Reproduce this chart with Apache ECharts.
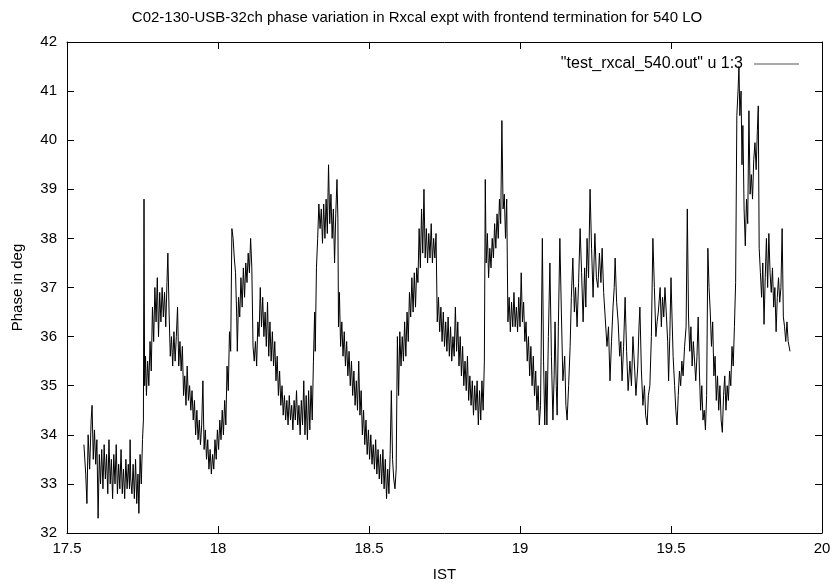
<!DOCTYPE html>
<html>
<head>
<meta charset="utf-8">
<script src="https://cdn.jsdelivr.net/npm/echarts@6/dist/echarts.min.js"></script>
<style>html,body{margin:0;padding:0;background:#fff}#c{width:834px;height:587px}</style>
</head>
<body>
<div id="c"></div>
<script>
const titleText = 'C02-130-USB-32ch phase variation in Rxcal expt with frontend termination for 540 LO';
const seriesName = '"test_rxcal_540.out" u 1:3';
const xLabel = 'IST';
const yLabel = 'Phase in deg';
const xTicks = [17.5, 18, 18.5, 19, 19.5, 20];
const yTicks = [32, 33, 34, 35, 36, 37, 38, 39, 40, 41, 42];

// [IST hour, phase deg]
const part1 = [
[17.556,33.8],[17.562,33.2],[17.566,32.6],[17.570,34.0],[17.575,33.3],[17.580,34.3],[17.583,34.6],[17.587,33.5],[17.591,34.1],[17.595,33.4],
[17.599,33.9],[17.603,32.3],[17.607,33.6],[17.611,33.0],[17.615,33.7],[17.619,32.9],[17.623,33.8],[17.627,33.1],[17.631,33.6],[17.635,32.8],
[17.639,33.9],[17.643,33.0],[17.647,33.5],[17.651,32.7],[17.655,33.6],[17.659,33.0],[17.663,33.8],[17.667,32.8],[17.671,33.4],[17.675,32.9],
[17.679,33.7],[17.683,32.8],[17.687,33.3],[17.691,32.7],[17.695,33.5],[17.699,32.9],[17.703,33.4],[17.707,32.9],[17.709,33.9],[17.711,33.1],
[17.715,32.8],[17.719,33.4],[17.723,32.7],[17.727,33.5],[17.731,32.6],[17.735,33.2],[17.738,32.4],[17.742,33.6],[17.746,33.0],[17.750,33.9],
[17.753,34.3],[17.755,38.8],[17.757,35.0],[17.760,35.6],[17.763,34.8],[17.767,35.5],[17.771,35.0],[17.775,35.9],[17.779,35.3],[17.783,36.6],
[17.787,35.9],[17.791,37.0],[17.795,36.3],[17.799,37.2],[17.803,36.0],[17.807,36.9],[17.811,36.3],[17.815,37.0],[17.819,36.4],[17.823,36.9],
[17.827,36.2],[17.831,37.1],[17.834,37.7],[17.838,36.5],[17.842,35.6],[17.846,36.0],[17.850,35.4],[17.854,36.1],[17.858,35.5],[17.862,36.0],
[17.866,36.6],[17.870,35.4],[17.874,35.9],[17.878,35.3],[17.882,35.8],[17.886,34.8],[17.890,35.2],[17.894,34.6],[17.898,35.4],[17.902,34.7],
[17.906,35.0],[17.910,34.5],[17.914,34.9],[17.918,34.3],[17.922,34.7],[17.926,34.0],[17.930,34.5],[17.934,33.9],[17.938,34.3],[17.942,33.8],
[17.946,34.2],[17.950,35.1],[17.954,33.7],[17.958,34.1],[17.962,33.5],[17.966,33.9],[17.970,33.3],[17.974,33.7],[17.978,33.2],[17.982,33.6],
[17.986,33.3],[17.990,33.9],[17.994,33.5],[17.998,34.1]
];
const part2 = [
[18.002,33.7],[18.006,34.3],[18.010,33.9],[18.014,34.5],[18.018,34.0],[18.022,34.7],[18.026,34.2],[18.030,35.4],[18.034,34.9],[18.038,36.1],
[18.042,35.7],[18.046,38.2],[18.050,38.0],[18.054,37.6],[18.058,37.3],[18.062,36.4],[18.064,35.7],[18.068,36.8],[18.072,36.4],[18.076,37.2],
[18.080,36.6],[18.084,37.4],[18.088,36.8],[18.092,37.5],[18.096,37.1],[18.100,37.7],[18.104,37.3],[18.108,38.0],[18.112,37.4],[18.116,35.8],
[18.120,35.5],[18.124,35.9],[18.128,35.4],[18.132,36.3],[18.136,36.0],[18.140,37.0],[18.144,36.2],[18.148,36.8],[18.152,36.0],[18.156,36.5],
[18.160,35.8],[18.164,36.7],[18.168,35.6],[18.172,36.3],[18.176,35.5],[18.180,36.1],[18.184,35.4],[18.188,35.9],[18.192,35.1],[18.196,35.6],
[18.200,34.8],[18.204,35.3],[18.208,34.6],[18.212,35.0],[18.216,34.4],[18.220,34.8],[18.224,34.3],[18.228,34.7],[18.232,34.2],[18.236,34.8],
[18.240,34.3],[18.244,34.6],[18.248,34.1],[18.252,34.7],[18.256,34.3],[18.260,34.9],[18.264,34.2],[18.268,34.6],[18.272,34.0],[18.276,34.7],
[18.280,34.2],[18.284,35.1],[18.288,34.0],[18.292,34.8],[18.296,33.9],[18.300,34.9],[18.304,34.1],[18.308,35.0],[18.312,34.3],[18.316,35.5],
[18.320,36.5],[18.322,35.7],[18.326,37.4],[18.330,38.0],[18.334,38.7],[18.338,38.2],[18.342,38.6],[18.346,37.9],[18.350,38.7],[18.354,38.0],
[18.358,38.8],[18.362,38.1],[18.366,39.5],[18.370,38.3],[18.374,38.9],[18.378,38.0],[18.382,38.6],[18.386,37.5],[18.390,38.5],[18.394,39.2],
[18.397,38.4],[18.399,36.2],[18.402,36.9],[18.406,35.8],[18.410,36.3],[18.414,35.6],[18.418,36.1],[18.422,35.4],[18.426,35.9],[18.430,35.2],
[18.434,35.7],[18.438,35.0],[18.442,35.5],[18.446,34.8],[18.450,35.3],[18.454,34.6],[18.458,35.1],[18.462,34.5],[18.466,35.5],[18.470,34.4],
[18.474,34.9],[18.478,34.0],[18.482,34.5],[18.486,33.8],[18.490,34.3],[18.494,33.6],[18.498,34.1]
];
const part3 = [
[18.502,33.5],[18.506,34.0],[18.510,33.4],[18.514,33.8],[18.518,33.3],[18.522,33.9],[18.526,33.2],[18.530,33.7],[18.534,33.1],[18.538,33.6],
[18.542,33.0],[18.546,33.7],[18.550,32.9],[18.554,33.5],[18.558,32.7],[18.562,33.3],[18.566,32.8],[18.570,33.6],[18.574,34.9],[18.578,33.5],
[18.582,33.1],[18.586,32.9],[18.590,33.3],[18.594,36.0],[18.598,34.8],[18.602,36.1],[18.606,35.4],[18.610,36.0],[18.614,35.5],[18.618,36.3],
[18.622,35.6],[18.626,36.5],[18.630,35.9],[18.634,36.9],[18.638,36.4],[18.642,37.2],[18.646,36.5],[18.650,37.3],[18.654,36.6],[18.658,37.4],
[18.662,37.1],[18.666,38.2],[18.670,37.4],[18.674,38.6],[18.678,37.7],[18.682,39.0],[18.686,37.6],[18.690,38.2],[18.694,37.5],[18.698,38.1],
[18.702,37.6],[18.706,38.3],[18.710,37.5],[18.714,38.0],[18.718,37.6],[18.722,38.1],[18.726,36.3],[18.730,36.8],[18.734,36.1],[18.738,36.6],
[18.742,35.9],[18.746,36.5],[18.750,35.8],[18.754,36.3],[18.758,35.7],[18.762,36.4],[18.766,35.6],[18.770,36.2],[18.774,35.5],[18.778,36.0],
[18.782,35.6],[18.786,36.6],[18.790,35.7],[18.794,36.3],[18.798,35.4],[18.802,36.0],[18.806,35.2],[18.810,35.8],[18.814,35.0],[18.818,35.5],
[18.822,34.9],[18.826,35.6],[18.830,34.7],[18.834,35.2],[18.838,34.6],[18.842,35.1],[18.846,34.4],[18.850,35.0],[18.854,34.5],[18.858,35.1],
[18.862,34.2],[18.866,34.9],[18.870,34.3],[18.874,35.1],[18.878,34.5],[18.882,35.5],[18.885,39.2],[18.888,37.5],[18.892,38.1],[18.896,37.2],
[18.900,37.8],[18.904,37.4],[18.908,38.0],[18.912,37.6],[18.916,38.3],[18.920,37.8],[18.924,38.5],[18.928,38.0],[18.932,38.8],[18.936,38.3],
[18.940,40.4],[18.944,38.6],[18.948,38.9],[18.952,38.0],[18.956,38.8],[18.960,36.3],[18.964,36.8],[18.968,36.1],[18.972,36.7],[18.976,36.2],
[18.980,36.9],[18.984,36.2],[18.988,36.6],[18.992,36.1],[18.996,36.8]
];
const part4 = [
[19.000,36.2],[19.004,37.3],[19.008,36.3],[19.012,36.7],[19.016,35.9],[19.020,36.3],[19.024,35.5],[19.028,36.0],[19.032,35.2],[19.036,35.8],
[19.040,35.0],[19.044,35.6],[19.048,34.8],[19.052,35.3],[19.056,34.5],[19.060,35.0],[19.064,34.2],[19.068,34.6],[19.074,38.0],[19.078,35.5],
[19.082,34.2],[19.086,35.3],[19.089,34.2],[19.094,36.0],[19.099,37.5],[19.104,35.6],[19.109,34.3],[19.113,35.2],[19.116,36.3],[19.120,35.0],
[19.123,34.4],[19.127,36.2],[19.132,38.0],[19.137,36.5],[19.142,35.1],[19.148,35.6],[19.152,34.6],[19.156,34.3],[19.161,35.0],[19.166,35.8],
[19.170,36.8],[19.175,37.6],[19.180,36.5],[19.184,37.0],[19.189,36.2],[19.194,37.1],[19.199,38.2],[19.204,37.3],[19.209,36.3],[19.214,37.4],
[19.218,36.6],[19.222,38.0],[19.227,37.2],[19.232,39.0],[19.237,37.8],[19.242,36.8],[19.245,37.5],[19.248,38.1],[19.253,37.2],[19.258,37.0],
[19.263,37.7],[19.268,37.1],[19.272,37.8],[19.277,36.9],[19.282,36.4],[19.288,35.8],[19.293,36.2],[19.298,35.1],[19.303,35.9],[19.308,36.6],
[19.312,37.0],[19.315,37.6],[19.320,36.7],[19.325,36.3],[19.330,35.6],[19.334,35.9],[19.338,35.1],[19.343,35.8],[19.348,36.8],[19.353,35.7],
[19.358,34.9],[19.364,35.5],[19.369,35.0],[19.374,36.0],[19.380,35.3],[19.384,34.8],[19.390,35.4],[19.394,36.2],[19.397,36.6],[19.402,35.3],
[19.407,34.6],[19.412,35.0],[19.416,34.4],[19.421,34.2],[19.425,34.8],[19.430,35.0],[19.435,36.0],[19.440,38.0],[19.445,37.0],[19.450,36.0],
[19.454,36.3],[19.458,36.5],[19.464,37.0],[19.468,36.2],[19.472,36.8],[19.476,36.4],[19.480,37.0],[19.485,36.4],[19.489,35.9],[19.492,35.1],
[19.496,36.0]
];
const part5 = [
[19.500,37.2],[19.503,36.5],[19.507,35.6],[19.512,35.0],[19.516,34.5],[19.520,34.2],[19.524,34.8],[19.528,35.3],[19.532,35.0],[19.536,35.5],
[19.540,35.2],[19.545,35.8],[19.550,36.2],[19.554,38.6],[19.558,36.4],[19.562,35.7],[19.566,36.2],[19.570,35.4],[19.574,35.9],[19.578,35.5],
[19.582,35.1],[19.586,35.6],[19.590,36.4],[19.594,35.3],[19.598,34.5],[19.602,35.0],[19.606,34.3],[19.610,34.5],[19.614,34.1],[19.618,34.8],
[19.622,37.8],[19.626,37.0],[19.630,36.5],[19.634,35.8],[19.638,36.3],[19.642,35.2],[19.646,35.6],[19.650,34.7],[19.654,35.2],[19.658,34.5],
[19.662,35.0],[19.666,34.3],[19.670,34.05],[19.674,34.8],[19.678,35.2],[19.682,34.5],[19.686,35.0],[19.690,34.7],[19.694,35.3],[19.698,35.0],
[19.702,35.8],[19.706,35.4],[19.710,36.2],[19.714,37.1],[19.718,40.5],[19.722,41.0],[19.725,41.5],[19.728,40.5],[19.732,41.0],[19.735,39.5],
[19.738,40.3],[19.742,38.6],[19.746,37.85],[19.750,38.8],[19.754,38.3],[19.758,40.6],[19.762,38.9],[19.766,39.3],[19.770,38.8],[19.774,39.6],
[19.778,39.95],[19.782,39.4],[19.786,40.2],[19.789,40.7],[19.792,37.8],[19.796,37.3],[19.800,36.8],[19.804,37.5],[19.808,36.25],[19.812,37.2],
[19.816,38.0],[19.820,37.0],[19.824,38.1],[19.828,37.3],[19.832,36.9],[19.836,37.4],[19.840,36.6],[19.844,37.0],[19.848,36.1],[19.852,36.8],
[19.856,37.2],[19.860,36.7],[19.864,37.0],[19.868,38.2],[19.872,36.4],[19.876,36.2],[19.880,35.9],[19.884,36.3],[19.888,35.9],[19.894,35.7]
];

const readings = [].concat(part1, part2, part3, part4, part5);

const FONT = 'Liberation Sans';
const chart = echarts.init(document.getElementById('c'), null, {renderer: 'canvas'});
const axisLineStyle = {color: '#000', width: 1};
const tickStyle = {show: true, inside: true, length: 7, lineStyle: {color: '#000', width: 1}};
chart.setOption({
  animation: false,
  backgroundColor: '#fff',
  title: {
    text: titleText, left: 'center', top: 5,
    textStyle: {fontFamily: FONT, fontSize: 15, fontWeight: 'normal', color: '#000'}
  },
  legend: {
    data: [{name: seriesName, icon: 'rect'}],
    right: 30, top: 51, align: 'right',
    itemWidth: 45, itemHeight: 1, itemGap: 10,
    textStyle: {fontFamily: FONT, fontSize: 16, color: '#000', padding: [0, 6, 0, 0]}
  },
  grid: {left: 67, right: 12, top: 42, bottom: 51, containLabel: false},
  xAxis: [{
    type: 'value', min: 17.5, max: 20, interval: 0.5,
    name: xLabel, nameLocation: 'middle', nameGap: 34,
    nameTextStyle: {fontFamily: FONT, fontSize: 15, color: '#000'},
    axisLine: {show: true, onZero: false, lineStyle: axisLineStyle},
    axisTick: tickStyle,
    axisLabel: {fontFamily: FONT, fontSize: 15, color: '#000', margin: 8,
      formatter: v => xTicks.includes(v) ? String(v) : ''},
    splitLine: {show: false}
  }, {
    type: 'value', position: 'top', min: 17.5, max: 20, interval: 0.5,
    axisLine: {show: true, onZero: false, lineStyle: axisLineStyle},
    axisTick: tickStyle, axisLabel: {show: false}, splitLine: {show: false}
  }],
  yAxis: [{
    type: 'value', min: 32, max: 42, interval: 1,
    name: yLabel, nameLocation: 'middle', nameGap: 42, nameRotate: 90,
    nameTextStyle: {fontFamily: FONT, fontSize: 15, color: '#000'},
    axisLine: {show: true, onZero: false, lineStyle: axisLineStyle},
    axisTick: tickStyle,
    axisLabel: {fontFamily: FONT, fontSize: 15, color: '#000', margin: 10,
      formatter: v => yTicks.includes(v) ? String(v) : ''},
    splitLine: {show: false}
  }, {
    type: 'value', position: 'right', min: 32, max: 42, interval: 1,
    axisLine: {show: true, onZero: false, lineStyle: axisLineStyle},
    axisTick: tickStyle, axisLabel: {show: false}, splitLine: {show: false}
  }],
  series: [{
    name: seriesName, type: 'line', xAxisIndex: 0, yAxisIndex: 0,
    data: readings, showSymbol: false, symbol: 'none',
    lineStyle: {color: '#000', width: 1}, itemStyle: {color: '#555'},
    sampling: null
  }]
});
</script>
</body>
</html>
